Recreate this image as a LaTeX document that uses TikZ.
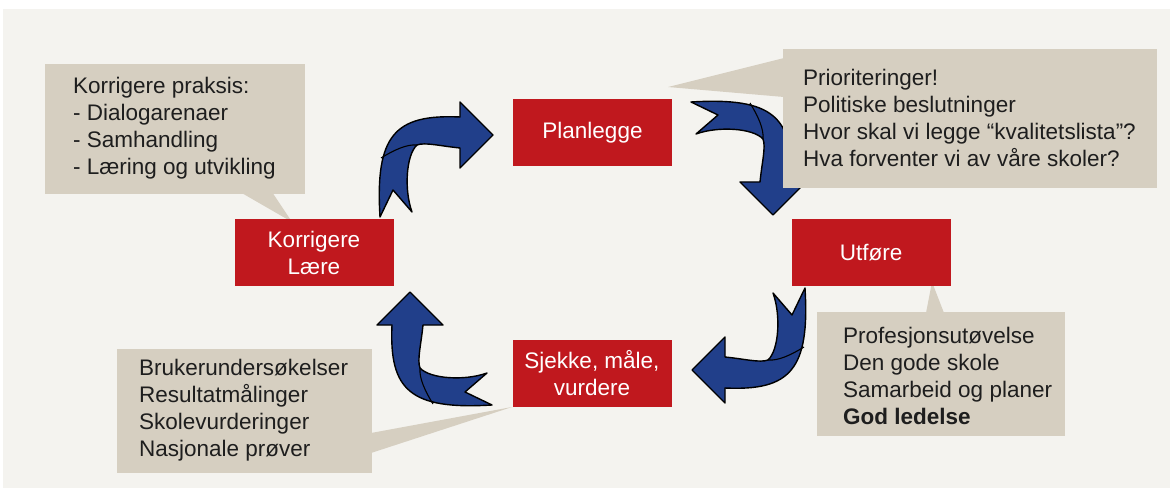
\documentclass[tikz,border=0pt]{standalone}
\usepackage{fontspec}
\setmainfont{Liberation Sans}
\newcommand\cfont{\fontsize{22.5}{27}\selectfont}
\definecolor{bgcol}{RGB}{244,243,239}
\definecolor{calloutbg}{RGB}{214,207,193}
\definecolor{boxred}{RGB}{192,24,30}
\definecolor{arrowblue}{RGB}{33,63,138}
\definecolor{textgray}{RGB}{30,30,30}
\tikzset{
  calloutbox/.style={fill=calloutbg, draw=none, inner sep=0pt},
  cbtext/.style={font=\cfont, text=textgray, align=left, anchor=west, inner sep=0pt},
  redbox/.style={fill=boxred, draw=none, text=white, font=\cfont, align=center,
                 minimum width=159pt, minimum height=67pt, inner sep=0pt},
  arrowfill/.style={fill=arrowblue, draw=black, line width=1.4pt, line join=round},
  arrowline/.style={draw=black, line width=1.1pt},
  cyclearrow/.pic={
    \filldraw[arrowfill] (-55,57) .. controls (-60,-25) and (-40,-46) .. (25,-43)
      -- (25,-58) -- (58,-25) -- (25,8) -- (25,-12)
      .. controls (5,-14) and (-10,-18) .. (-18,-15)
      .. controls (-29,-5) and (-31,30) .. (-23,52)
      -- (-42,30) -- cycle;
    \draw[arrowline] (-54,-2) .. controls (-41,-10) and (-28,-16) .. (-18,-15);
  }
}
\begin{document}
\begin{tikzpicture}[x=1pt,y=-1pt]
\useasboundingbox (0,0) rectangle (1170,489);
\fill[white] (0,0) rectangle (1170,489);
\fill[bgcol] (3,9) rectangle (1170,488);

% curved arrows
\pic at (435,160) {cyclearrow};
\pic[rotate=-90] at (748,157) {cyclearrow};
\pic[rotate=180] at (750,345) {cyclearrow};
\pic[rotate=90] at (435,350) {cyclearrow};

% callouts
\node[calloutbox, minimum width=260pt, minimum height=130pt] (kc) at (175,129) {};
\fill[calloutbg] (240,192) -- (292,222) -- (272,192) -- cycle;
\node[cbtext] (kct) at (73,128) {Korrigere praksis:\\- Dialogarenaer\\- Samhandling\\- Læring og utvikling};

\node[calloutbox, minimum width=374pt, minimum height=139pt] (pc) at (970,118.5) {};
\fill[calloutbg] (784,58) -- (668,87) -- (784,97) -- cycle;
\node[cbtext] (pct) at (803,117.5) {Prioriteringer!\\Politiske beslutninger\\Hvor skal vi legge “kvalitetslista”?\\Hva forventer vi av våre skoler?};

\node[calloutbox, minimum width=248pt, minimum height=124pt] (uc) at (941,374) {};
\fill[calloutbg] (926,313) -- (932,282) -- (944,313) -- cycle;
\node[cbtext] (uct) at (843,376) {Profesjonsutøvelse\\Den gode skole\\Samarbeid og planer\\\textbf{God ledelse}};

\node[calloutbox, minimum width=255pt, minimum height=124pt] (bc) at (244.5,411) {};
\fill[calloutbg] (371,433) -- (512,407) -- (371,453) -- cycle;
\node[cbtext] (bct) at (139,410) {Brukerundersøkelser\\Resultatmålinger\\Skolevurderinger\\Nasjonale prøver};

% red step boxes
\node[redbox] (plan) at (592.5,133) {Planlegge};
\node[redbox] (utf) at (871,252.5) {Utføre};
\node[redbox] (sjekk) at (592,373) {Sjekke, måle,\\vurdere};
\node[redbox] (korr) at (314,252.5) {Korrigere\\Lære};
\end{tikzpicture}
\end{document}
